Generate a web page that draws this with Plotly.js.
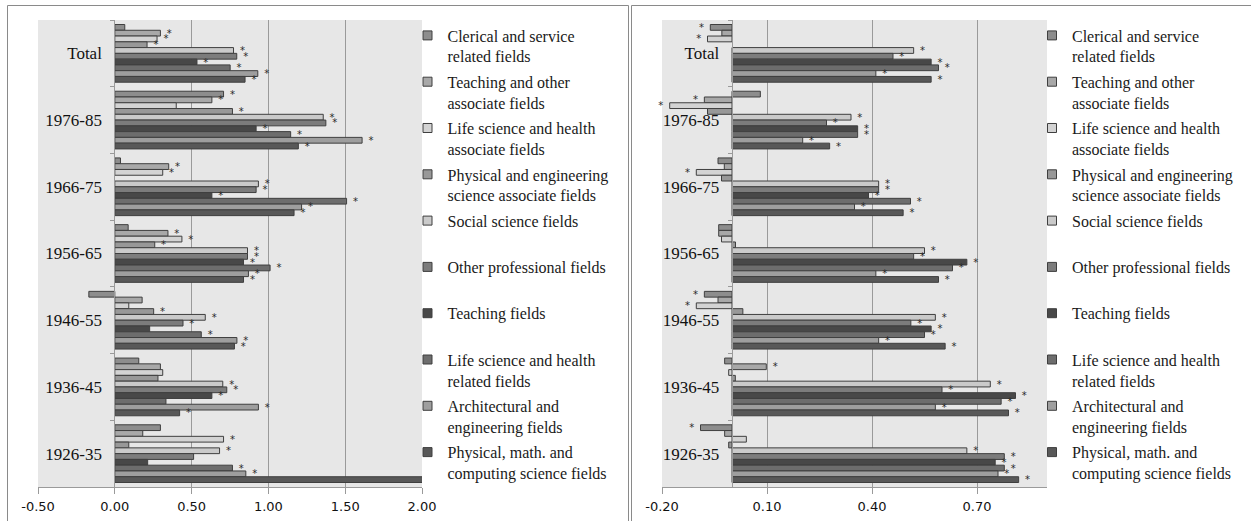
<!DOCTYPE html>
<html>
<head>
<meta charset="utf-8">
<script src="https://cdn.plot.ly/plotly-3.0.1.min.js"></script>
<style>html,body{margin:0;padding:0;background:#fff;}#chart{width:1251px;height:521px;}</style>
</head>
<body>
<div id="chart"></div>
<script>
// ---------- data ----------
const categories = ["Total","1976-85","1966-75","1956-65","1946-55","1936-45","1926-35"];

const seriesNames = [
  "Clerical and service<br>related fields",
  "Teaching and other<br>associate fields",
  "Life science and health<br>associate fields",
  "Physical and engineering<br>science associate fields",
  "Social science fields<br> ",
  "Other professional fields<br> ",
  "Teaching fields<br> ",
  "Life science and health<br>related fields",
  "Architectural and<br>engineering fields",
  "Physical, math. and<br>computing science fields"
];

const seriesColors = ["#8d8d8d","#a8a8a8","#d3d3d3","#989898","#cacaca","#7c7c7c","#484848","#6d6d6d","#9e9e9e","#585858"];

// left panel values (one array per series, categories in order)
const leftClerical     = [0.065, 0.708, 0.037, 0.087, -0.169, 0.156, 0.297];
const leftTeachAssoc   = [0.297, 0.632, 0.351, 0.346, 0.178, 0.297, 0.182];
const leftLifeAssoc    = [0.275, 0.400, 0.312, 0.437, 0.091, 0.312, 0.708];
const leftPhysAssoc    = [0.210, 0.766, null, 0.260, 0.253, 0.281, 0.091];
const leftSocial       = [0.773, 1.357, 0.935, 0.864, 0.589, 0.703, 0.682];
const leftOtherProf    = [0.794, 1.374, 0.920, 0.864, 0.444, 0.729, 0.513];
const leftTeaching     = [0.535, 0.920, 0.632, 0.838, 0.227, 0.632, 0.214];
const leftLifeHealth   = [0.751, 1.145, 1.509, 1.011, 0.563, 0.333, 0.766];
const leftArch         = [0.931, 1.610, 1.216, 0.870, 0.795, 0.935, 0.853];
const leftPhysMath     = [0.848, 1.195, 1.167, 0.838, 0.779, 0.422, 2.100];

// left panel significance markers (1 = asterisk)
const leftSig = [
  [0,1,0,0,0,0,0],
  [1,1,1,1,0,0,0],
  [1,0,1,1,0,0,1],
  [1,1,0,1,1,0,0],
  [1,1,1,1,1,1,1],
  [1,1,1,1,1,1,0],
  [1,1,1,1,0,1,0],
  [1,1,1,1,1,0,1],
  [1,1,1,1,1,1,1],
  [1,1,1,1,1,1,1]
];

// right panel values
const rightClerical    = [-0.062, 0.081, -0.040, -0.038, -0.079, -0.021, -0.090];
const rightTeachAssoc  = [-0.029, -0.079, -0.022, -0.038, -0.040, 0.098, -0.021];
const rightLifeAssoc   = [-0.070, -0.178, -0.102, -0.030, -0.102, -0.0095, 0.041];
const rightPhysAssoc   = [null, -0.070, -0.030, 0.010, 0.031, 0.0095, -0.0095];
const rightSocial      = [0.519, 0.340, 0.419, 0.550, 0.581, 0.738, 0.671];
const rightOtherProf   = [0.460, 0.270, 0.419, 0.519, 0.511, 0.600, 0.778];
const rightTeaching    = [0.569, 0.359, 0.390, 0.671, 0.569, 0.810, 0.752];
const rightLifeHealth  = [0.590, 0.359, 0.510, 0.630, 0.550, 0.769, 0.778];
const rightArch        = [0.411, 0.202, 0.350, 0.411, 0.419, 0.581, 0.760];
const rightPhysMath    = [0.569, 0.279, 0.489, 0.590, 0.609, 0.790, 0.819];

const rightSig = [
  [1,0,0,0,1,0,1],
  [0,1,0,0,0,1,0],
  [1,1,1,0,1,0,0],
  [0,0,0,0,0,0,0],
  [1,1,1,1,1,1,1],
  [1,1,1,1,1,1,1],
  [1,1,1,1,1,1,1],
  [1,1,1,1,1,1,1],
  [1,1,1,1,1,1,1],
  [1,1,1,1,1,1,1]
];

// tick labels
const leftTickVals  = [-0.5, 0, 0.5, 1.0, 1.5, 2.0];
const leftTickText  = ["-0.50","0.00","0.50","1.00","1.50","2.00"];
const rightTickVals = [-0.2, 0.1, 0.4, 0.7];
const rightTickText = ["-0.20","0.10","0.40","0.70"];

const leftSeries  = [leftClerical,leftTeachAssoc,leftLifeAssoc,leftPhysAssoc,leftSocial,leftOtherProf,leftTeaching,leftLifeHealth,leftArch,leftPhysMath];
const rightSeries = [rightClerical,rightTeachAssoc,rightLifeAssoc,rightPhysAssoc,rightSocial,rightOtherProf,rightTeaching,rightLifeHealth,rightArch,rightPhysMath];

// ---------- build ----------
const W = 1251, H = 521;
const px = v => v / W;
const py = v => 1 - v / H;
const NB = '\u00A0';

function starText(vals, sig) {
  return vals.map((v, i) => sig[i] ? (v < 0 ? '*' + NB + NB : NB + NB + '*') : '');
}

const traces = [];
function addPanel(series, sigs, xa, ya, legendId, prefix, clip) {
  series.forEach((vals, k) => {
    traces.push({
      type: 'bar', orientation: 'h',
      x: vals, y: categories,
      xaxis: xa, yaxis: ya,
      marker: {color: seriesColors[k], line: {color: '#3f3f3f', width: 1}},
      text: starText(vals, sigs[k]),
      textposition: 'outside', textangle: 0, constraintext: 'none',
      textfont: {family: 'DejaVu Sans', size: 10, color: '#2a2a2a'},
      cliponaxis: clip,
      showlegend: false, hoverinfo: 'x+y'
    });
  });
  series.forEach((vals, k) => {
    traces.push({
      type: 'scatter', mode: 'markers',
      x: [null], y: [null], xaxis: xa, yaxis: ya,
      name: seriesNames[k], legend: legendId, legendgroup: prefix + k,
      marker: {symbol: 'square', size: 9, color: seriesColors[k], line: {color: '#3f3f3f', width: 1}},
      showlegend: true, hoverinfo: 'skip'
    });
  });
}
addPanel(leftSeries, leftSig, 'x', 'y', 'legend', 'L', true);
addPanel(rightSeries, rightSig, 'x2', 'y2', 'legend2', 'R', false);

const gridCol = '#9a9a9a';
const yDomain = [py(487), py(20)];
const catFont = {family: 'Liberation Serif', size: 17, color: '#111'};
const tickFont = {family: 'DejaVu Sans', size: 13, color: '#111'};
const legFont = {family: 'Liberation Serif', size: 16, color: '#1a1a1a'};

function xAxis(domain, range, tv, tt, anchor) {
  return {
    domain: domain, range: range, anchor: anchor,
    tickmode: 'array', tickvals: tv, ticktext: tt, tickfont: tickFont,
    showgrid: true, gridcolor: gridCol, gridwidth: 1,
    showline: true, linecolor: gridCol, linewidth: 1,
    ticks: 'outside', ticklen: 6, tickcolor: gridCol, ticklabelstandoff: 1,
    zeroline: false, fixedrange: true, automargin: false
  };
}
function yAxis(position) {
  return {
    domain: yDomain, type: 'category', categoryorder: 'array', categoryarray: categories,
    autorange: 'reversed', anchor: 'free', position: position,
    showline: true, linecolor: gridCol, linewidth: 1,
    ticks: 'outside', tickson: 'boundaries', ticklen: 4, tickcolor: gridCol,
    ticklabelstandoff: 9, tickfont: catFont,
    showgrid: false, zeroline: false, fixedrange: true, automargin: false
  };
}

const layout = {
  width: W, height: H,
  margin: {l: 0, r: 0, t: 0, b: 0},
  paper_bgcolor: '#ffffff', plot_bgcolor: '#e7e7e7',
  barmode: 'group', bargap: 0.135, bargroupgap: 0,
  showlegend: true,
  xaxis: xAxis([px(38), px(422)], [-0.5, 2.0], leftTickVals, leftTickText, 'y'),
  yaxis: yAxis(px(114.3)),
  xaxis2: xAxis([px(662), px(1047)], [-0.2, 0.9], rightTickVals, rightTickText, 'y2'),
  yaxis2: yAxis(px(731.7)),
  legend: {x: px(407.5), y: py(18.5), xanchor: 'left', yanchor: 'top', font: legFont,
           bgcolor: 'rgba(0,0,0,0)', borderwidth: 0, valign: 'top', tracegroupgap: 1.7, itemclick: false, itemdoubleclick: false},
  legend2: {x: px(1032), y: py(18.5), xanchor: 'left', yanchor: 'top', font: legFont,
           bgcolor: 'rgba(0,0,0,0)', borderwidth: 0, valign: 'top', tracegroupgap: 1.7, itemclick: false, itemdoubleclick: false},
  shapes: [
    {type: 'rect', xref: 'paper', yref: 'paper', x0: px(7.5), x1: px(628.5), y0: -0.1, y1: py(5.5),
     line: {color: '#8a8a8a', width: 1}, fillcolor: 'rgba(0,0,0,0)', layer: 'above'},
    {type: 'rect', xref: 'paper', yref: 'paper', x0: px(631.5), x1: 1.05, y0: -0.1, y1: py(5.5),
     line: {color: '#8a8a8a', width: 1}, fillcolor: 'rgba(0,0,0,0)', layer: 'above'}
  ]
};

Plotly.newPlot('chart', traces, layout, {displayModeBar: false, responsive: false});
</script>
</body>
</html>
